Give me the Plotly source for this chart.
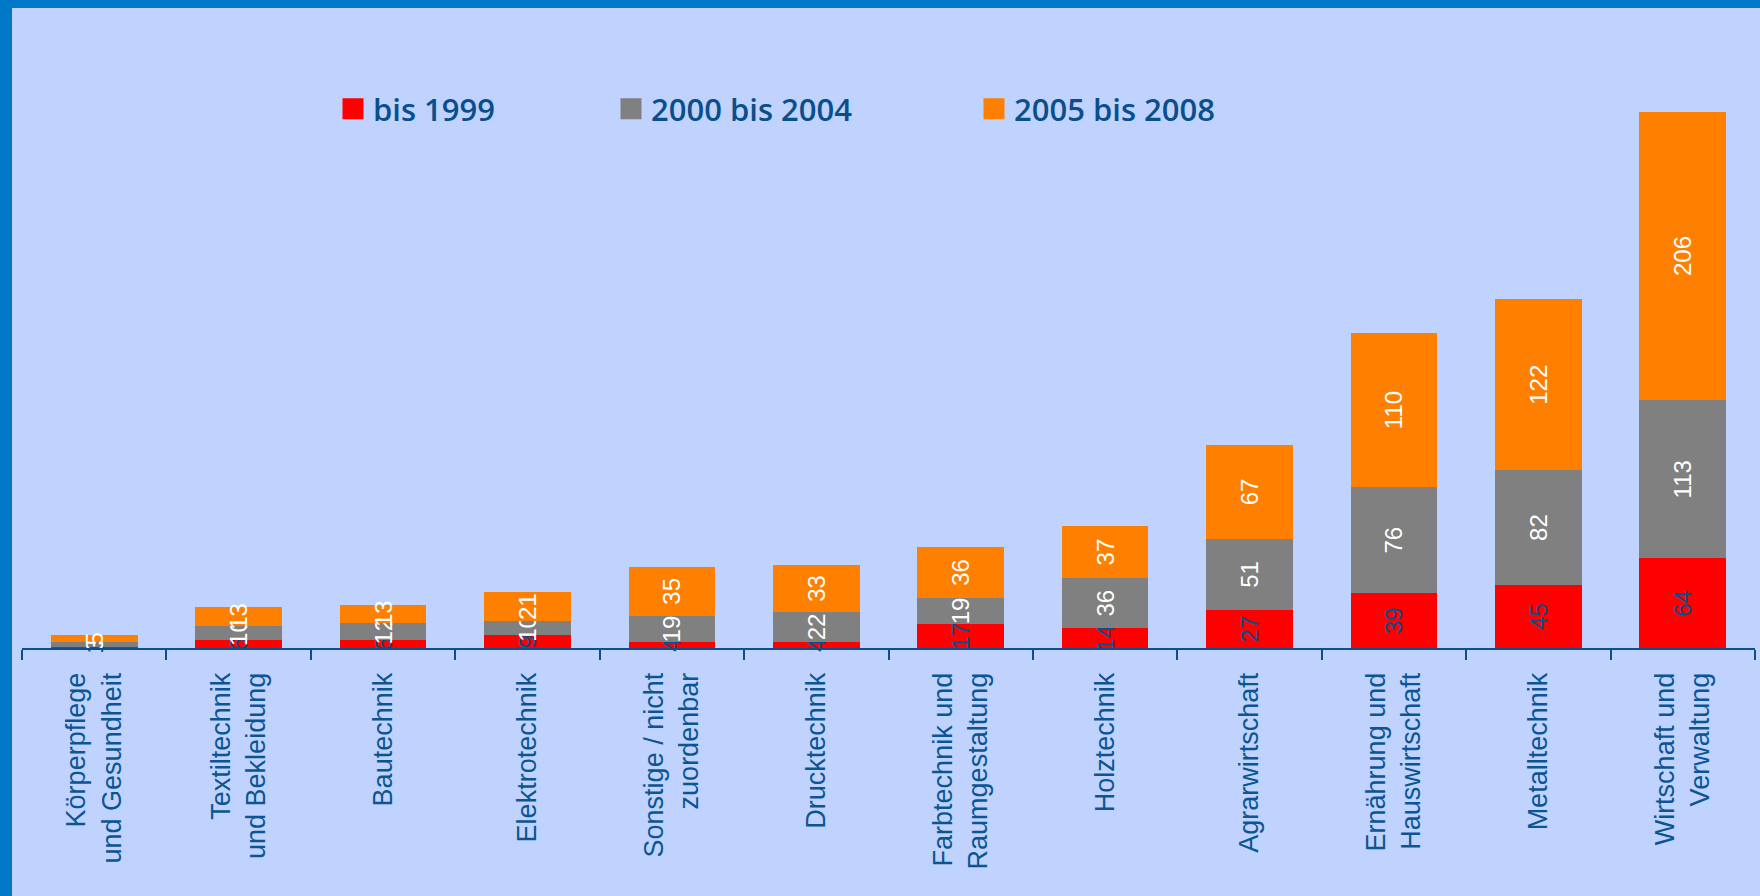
import plotly.graph_objects as go

categories = [
    "Körperpflege<br>und Gesundheit",
    "Textiltechnik<br>und Bekleidung",
    "Bautechnik",
    "Elektrotechnik",
    "Sonstige / nicht<br>zuordenbar",
    "Drucktechnik",
    "Farbtechnik und<br>Raumgestaltung",
    "Holztechnik",
    "Agrarwirtschaft",
    "Ernährung und<br>Hauswirtschaft",
    "Metalltechnik",
    "Wirtschaft und<br>Verwaltung",
]
series_names = ["bis 1999", "2000 bis 2004", "2005 bis 2008"]
bis_1999 = [1, 6, 6, 9, 4, 4, 17, 14, 27, 39, 45, 64]
bis_2004 = [3, 10, 12, 10, 19, 22, 19, 36, 51, 76, 82, 113]
bis_2008 = [5, 13, 13, 21, 35, 33, 36, 37, 67, 110, 122, 206]

colors = ["#FF0000", "#808080", "#FF7F00"]
label_colors = ["#0A4F8C", "#FFFFFF", "#FFFFFF"]
dark = "#0A4F8C"
tick_blue = "#0C5594"
bg = "#BFD3FE"
border = "#0078C8"

W, H = 1760, 896
ML, MR, MT, MB = 22, 5, 8, 248
PW, PH = W - ML - MR, H - MT - MB

fig = go.Figure()
for name, vals, col, lcol in zip(series_names, [bis_1999, bis_2004, bis_2008], colors, label_colors):
    fig.add_trace(go.Bar(
        x=categories, y=vals, name=name, marker=dict(color=col, line=dict(width=0)),
        text=vals, textposition="inside", insidetextanchor="middle", textangle=-90,
        textfont=dict(family="Liberation Sans, Arial, sans-serif", size=24, color=lcol),
        constraintext="none", cliponaxis=False, showlegend=False, hoverinfo="skip",
    ))

legend_ids = ["legend", "legend2", "legend3"]
legend_x = [333, 611, 974]
for name, col, lid in zip(series_names, colors, legend_ids):
    fig.add_trace(go.Scatter(
        x=[None], y=[None], mode="markers", name=name, legend=lid,
        marker=dict(symbol="square", size=16, color=col, line=dict(color=col, width=5)),
        showlegend=True,
    ))

legend_font = dict(family="Open Sans, Liberation Sans, sans-serif", size=31, color=dark, weight=600)
leg_common = dict(xref="paper", yref="paper", xanchor="left", yanchor="middle",
                  y=(H - MB - 109) / PH, bgcolor="rgba(0,0,0,0)", borderwidth=0,
                  font=legend_font, itemsizing="trace", orientation="h")
fig.update_layout(
    legend=dict(x=(legend_x[0] - ML) / PW, **leg_common),
    legend2=dict(x=(legend_x[1] - ML) / PW, **leg_common),
    legend3=dict(x=(legend_x[2] - ML) / PW, **leg_common),
)

fig.update_layout(
    width=W, height=H,
    barmode="stack", bargap=0.4,
    paper_bgcolor=bg, plot_bgcolor=bg,
    margin=dict(l=ML, r=MR, t=MT, b=MB, pad=0, autoexpand=False),
    uniformtext=dict(minsize=24, mode="show"),
    xaxis=dict(
        showline=True, linecolor=dark, linewidth=2,
        ticks="outside", tickson="boundaries", ticklen=10, tickwidth=2, tickcolor=dark,
        tickangle=-90, ticklabelstandoff=12,
        tickfont=dict(family="Liberation Sans, Arial, sans-serif", size=27, color=tick_blue),
        showgrid=False, zeroline=False, fixedrange=True,
    ),
    yaxis=dict(range=[0, PH / 1.40], visible=False, showgrid=False, zeroline=False, fixedrange=True),
    shapes=[
        dict(type="rect", xref="paper", yref="paper", x0=-0.05, x1=1.05,
             y0=1.0, y1=1.2, fillcolor=border, line=dict(width=0), layer="above"),
        dict(type="rect", xref="paper", yref="paper", x0=-0.05, x1=(12 - ML) / PW,
             y0=-0.6, y1=1.2, fillcolor=border, line=dict(width=0), layer="above"),
    ],
)

fig.write_html("out.html", config={"displayModeBar": False},
               post_script="document.body.style.margin='0';document.body.style.padding='0';")
